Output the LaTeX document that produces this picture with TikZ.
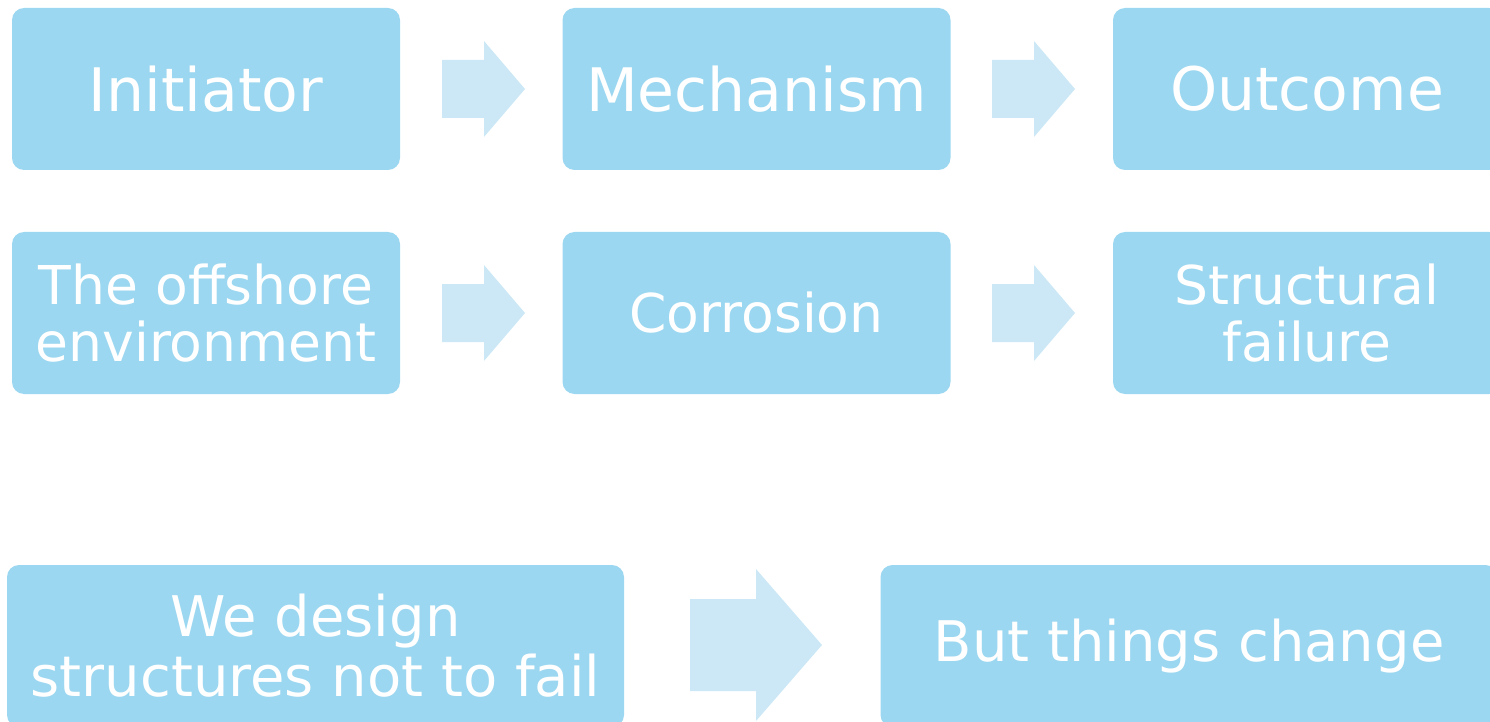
\documentclass[tikz,border=0pt]{standalone}
\usepackage{fontspec}
\setmainfont{DejaVu Sans}
\definecolor{boxblue}{RGB}{155,215,240}
\definecolor{arrowblue}{RGB}{204,232,246}
\begin{document}
\begin{tikzpicture}[x=0.5pt, y=-0.5pt,
  stagebox/.style={fill=boxblue, rounded corners=6pt, text=white, align=center,
    minimum width=194pt, minimum height=81pt, inner sep=0pt},
  widebox/.style={stagebox, minimum width=308.5pt}]
\useasboundingbox (0,0) rectangle (1490,722);
\clip (0,0) rectangle (1490,722);
% top row: headings
\node[stagebox, font=\fontsize{30}{32}\selectfont] (initiator) at (206,89) {Initiator};
\node[stagebox, font=\fontsize{30}{32}\selectfont] (mechanism) at (756.5,89) {Mechanism};
\node[stagebox, font=\fontsize{30}{32}\selectfont] (outcome) at (1307,89) {Outcome};
\fill[arrowblue] (442,60) -- (484,60) -- (484,41) -- (525,89) -- (484,137) -- (484,118) -- (442,118) -- cycle;
\fill[arrowblue] (992,60) -- (1034,60) -- (1034,41) -- (1075,89) -- (1034,137) -- (1034,118) -- (992,118) -- cycle;
% second row
\node[stagebox, font=\fontsize{26.75}{28.6}\selectfont] (environment) at (206,313) {The offshore\\environment};
\node[stagebox, font=\fontsize{26.75}{28.6}\selectfont] (corrosion) at (756.5,313) {Corrosion};
\node[stagebox, font=\fontsize{26.75}{28.6}\selectfont] (failure) at (1307,313) {Structural\\failure};
\fill[arrowblue] (442,284) -- (484,284) -- (484,265) -- (525,313) -- (484,361) -- (484,342) -- (442,342) -- cycle;
\fill[arrowblue] (992,284) -- (1034,284) -- (1034,265) -- (1075,313) -- (1034,361) -- (1034,342) -- (992,342) -- cycle;
% bottom row
\node[widebox, font=\fontsize{28}{30}\selectfont] (design) at (315.5,646) {We design\\structures not to fail};
\node[widebox, font=\fontsize{28}{30}\selectfont] (change) at (1189,646) {But things change};
\fill[arrowblue] (690,599) -- (756,599) -- (756,569) -- (822,645) -- (756,721) -- (756,691) -- (690,691) -- cycle;
\end{tikzpicture}
\end{document}
